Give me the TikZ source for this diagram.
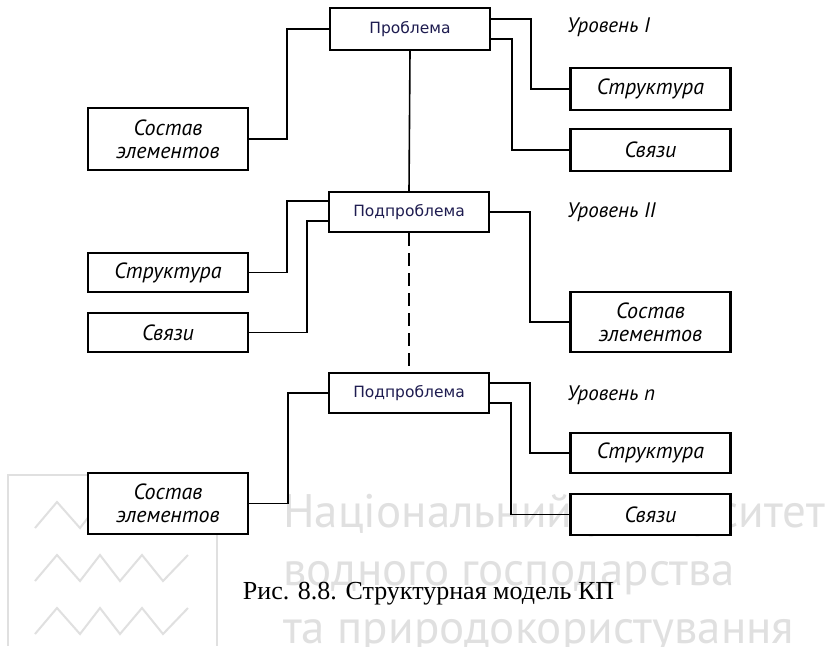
\documentclass[tikz,border=0pt]{standalone}
\usepackage{fontspec}
\setmainfont{Liberation Serif}
\newfontfamily\gostfont{PT Sans}
\newfontfamily\boxfont{DejaVu Sans}
\newfontfamily\wmfont{PT Sans}
\definecolor{navy}{RGB}{30,28,80}
\definecolor{wmgray}{RGB}{224,224,224}
\tikzset{
  wmline/.style={draw=wmgray, line width=2pt},
  wmtext/.style={text=wmgray, inner sep=0pt, font=\wmfont\fontsize{47}{52}\selectfont},
  box/.style={draw, fill=white, line width=2.2pt, minimum width=160pt, inner sep=0pt, align=center,
              font=\gostfont\itshape\fontsize{22}{23}\selectfont},
  pbox/.style={box, text=navy, font=\boxfont\fontsize{15.5}{18}\selectfont},
  lvl/.style={inner sep=0pt, anchor=west, font=\gostfont\itshape\fontsize{21}{22}\selectfont},
  conn/.style={line width=1.6pt},
  dconn/.style={line width=2pt, dash pattern=on 13pt off 7pt},
}
\begin{document}
\begin{tikzpicture}[x=1pt,y=-1pt]
\useasboundingbox[fill=white] (0,0) rectangle (834,646);
% watermark
\draw[wmline] (8,646) -- (8,475) -- (217,475) -- (217,646);
\foreach \y in {502,555,608}
  \draw[wmline] (35,\y+26) -- (57,\y) -- (80,\y+26) -- (100,\y) -- (120,\y+26) -- (142,\y) -- (163,\y+26) -- (188,\y);
\node[wmtext, anchor=base west] (wm1) at (283,527) {Національний університет};
\node[wmtext, anchor=base west] (wm2) at (283,585) {водного господарства};
\node[wmtext, anchor=base west] (wm3) at (283,643) {та природокористування};
% main boxes
\node[pbox, minimum height=42pt] (P1) at (410,29) {Проблема};
\node[pbox, minimum height=40pt] (P2) at (409,212) {Подпроблема};
\node[pbox, minimum height=40pt] (P3) at (409,393) {Подпроблема};
% level I
\node[box, minimum height=62pt] (L1) at (168,139) {Состав\\элементов};
\node[box, minimum height=42pt] (R1a) at (650.5,89) {Структура};
\node[box, minimum height=42pt] (R1b) at (650.5,150) {Связи};
% level II
\node[box, minimum height=39pt] (L2a) at (168,272.5) {Структура};
\node[box, minimum height=39pt] (L2b) at (168,332.5) {Связи};
\node[box, minimum height=60pt] (R2) at (650.5,322) {Состав\\элементов};
% level n
\node[box, minimum height=61pt] (L3) at (168,503.5) {Состав\\элементов};
\node[box, minimum height=40pt] (R3a) at (650.5,453) {Структура};
\node[box, minimum height=41pt] (R3b) at (650.5,514.5) {Связи};
% level labels
\node[lvl] (U1) at (567,27) {Уровень I};
\node[lvl] (U2) at (567,212) {Уровень II};
\node[lvl] (U3) at (567,395) {Уровень n};
% connectors level I
\draw[conn] (P1.west) -- ++(-42,0) |- (L1.east);
\draw[conn] ([yshift=10pt]P1.east) -- ++(40,0) |- (R1a.west);
\draw[conn] ([yshift=-10pt]P1.east) -- ++(21,0) |- (R1b.west);
\draw[conn] (P1.south) -- (P2.north);
% connectors level II
\draw[conn] ([yshift=11pt]P2.west) -- ++(-41,0) |- (L2a.east);
\draw[conn] ([yshift=-9pt]P2.west) -- ++(-21,0) |- (L2b.east);
\draw[conn] (P2.east) -- ++(40,0) |- (R2.west);
\draw[dconn] (P2.south) -- (P3.north);
% connectors level n
\draw[conn] (P3.west) -- ++(-40,0) |- (L3.east);
\draw[conn] ([yshift=10pt]P3.east) -- ++(40,0) |- (R3a.west);
\draw[conn] ([yshift=-10pt]P3.east) -- ++(21,0) |- (R3b.west);
% caption
\node[inner sep=0pt, anchor=base, font=\fontsize{26}{30}\selectfont] (cap) at (428.5,599) {Рис. 8.8. Структурная модель КП};
\end{tikzpicture}
\end{document}
